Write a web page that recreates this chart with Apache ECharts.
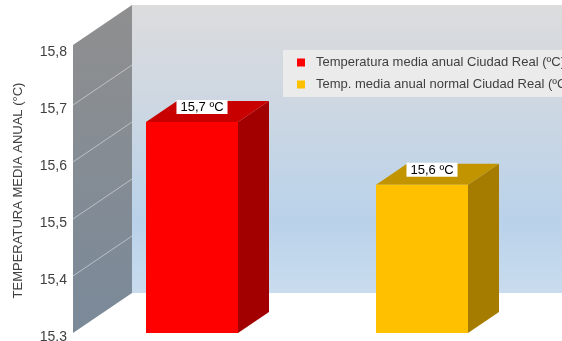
<!DOCTYPE html>
<html lang="es">
<head>
    <meta charset="UTF-8">
    <title>Temperatura media anual Ciudad Real</title>
    <script src="https://cdn.jsdelivr.net/npm/echarts@6.0.0/dist/echarts.min.js"></script>
    <style>
        html, body { margin: 0; padding: 0; background: #fff; }
    </style>
</head>
<body>
    <div id="chart" style="width: 562px; height: 341px;"></div>
    <script>
        var myChart = echarts.init(document.getElementById('chart'));

        // datos
        const categories = ['Real', 'Normal'];
        const seriesNames = [
            'Temperatura media anual Ciudad Real (ºC)',
            'Temp. media anual normal Ciudad Real (ºC)'
        ];
        const values = [15.67, 15.56];
        const yTicks = [15.3, 15.4, 15.5, 15.6, 15.7, 15.8];

        // colores de las caras: frontal, superior, lateral
        const faceColors = [
            ['#ff0000', '#c80000', '#a20000'],
            ['#ffc000', '#c29400', '#a67c00']
        ];

        // profundidad del efecto 3D
        const wallDepth = [59, -40];
        const barDepth = [31, -21];
        const yMin = yTicks[0], yMax = yTicks[yTicks.length - 1];

        function renderWalls(params, api) {
            const cs = params.coordSys;
            const fx = cs.x - 4;
            const yTop = api.coord([0, yMax])[1] - 3;
            const yBot = api.coord([0, yMin])[1];
            const bx = fx + wallDepth[0], dy = wallDepth[1];
            const children = [];
            // pared del fondo
            children.push({
                type: 'rect',
                shape: { x: bx, y: yTop + dy, width: cs.x + cs.width + 200 - bx, height: yBot - yTop },
                style: {
                    fill: new echarts.graphic.LinearGradient(0, 0, 0, 1, [
                        { offset: 0, color: '#dcdcdd' },
                        { offset: 0.35, color: '#cdd7e2' },
                        { offset: 0.75, color: '#b9d2ea' },
                        { offset: 1, color: '#c9dcee' }
                    ])
                }
            });
            // pared lateral
            children.push({
                type: 'polygon',
                shape: { points: [[fx, yTop], [bx, yTop + dy], [bx, yBot + dy], [fx, yBot]] },
                style: {
                    fill: new echarts.graphic.LinearGradient(0, 0, 0, 1, [
                        { offset: 0, color: '#8f8f8f' },
                        { offset: 1, color: '#7a8999' }
                    ])
                }
            });
            // líneas de división en la pared lateral
            yTicks.slice(1, -1).forEach(function (t) {
                const y = api.coord([0, t])[1];
                children.push({
                    type: 'line',
                    shape: { x1: fx, y1: y, x2: bx, y2: y + dy },
                    style: { stroke: 'rgba(255,255,255,0.45)', lineWidth: 1 }
                });
            });
            return { type: 'group', children: children };
        }

        function renderBar(params, api) {
            const idx = params.seriesIndex - 1;
            const c = faceColors[idx];
            const top = api.coord([api.value(0), api.value(1)]);
            const base = api.coord([api.value(0), yMin]);
            const w = api.size([1, 0])[0] * 0.4;
            const x0 = top[0] - w / 2, x1 = top[0] + w / 2;
            const yT = top[1], yB = base[1];
            const dx = barDepth[0], dy = barDepth[1];
            const label = api.value(1).toFixed(1).replace('.', ',') + ' ºC';
            return {
                type: 'group',
                children: [
                    {
                        type: 'polygon',
                        shape: { points: [[x1, yT], [x1 + dx, yT + dy], [x1 + dx, yB + dy], [x1, yB]] },
                        style: { fill: c[2] }
                    },
                    {
                        type: 'polygon',
                        shape: { points: [[x0, yT], [x0 + dx, yT + dy], [x1 + dx, yT + dy], [x1, yT]] },
                        style: { fill: c[1] }
                    },
                    {
                        type: 'rect',
                        shape: { x: x0, y: yT, width: w, height: yB - yT },
                        style: { fill: c[0] }
                    },
                    {
                        type: 'text',
                        x: x0 + dx + 25,
                        y: yT + dy - 1,
                        style: {
                            text: label,
                            fill: '#000',
                            font: '13px "Liberation Sans", Arial, sans-serif',
                            align: 'center',
                            verticalAlign: 'top',
                            backgroundColor: '#ffffff',
                            padding: [1, 4, 0, 4]
                        }
                    }
                ]
            };
        }

        const option = {
            animation: false,
            backgroundColor: '#ffffff',
            grid: { left: 77, width: 460, top: 48, bottom: 8, outerBoundsMode: 'none' },
            legend: {
                orient: 'vertical',
                left: 283,
                top: 50,
                data: seriesNames,
                icon: 'rect',
                itemWidth: 8,
                itemHeight: 8,
                itemGap: 9,
                padding: [6, 10, 6, 14],
                backgroundColor: '#ebebeb',
                textStyle: {
                    fontFamily: '"Liberation Sans", Arial, sans-serif',
                    fontSize: 13,
                    color: '#404040',
                    padding: [0, 0, 0, 6]
                }
            },
            xAxis: {
                type: 'category',
                data: categories,
                axisLine: { show: false },
                axisTick: { show: false },
                axisLabel: { show: false },
                splitLine: { show: false }
            },
            yAxis: {
                type: 'value',
                min: yMin,
                max: yMax,
                interval: 0.1,
                name: 'TEMPERATURA MEDIA ANUAL (°C)',
                nameLocation: 'middle',
                nameGap: 52,
                nameTextStyle: {
                    fontFamily: '"Liberation Sans", Arial, sans-serif',
                    fontSize: 13,
                    color: '#404040'
                },
                axisLine: { show: false },
                axisTick: { show: false },
                splitLine: { show: false },
                axisLabel: {
                    margin: 10,
                    fontFamily: '"Liberation Sans", Arial, sans-serif',
                    fontSize: 14,
                    color: '#404040',
                    verticalAlign: 'top',
                    lineHeight: 9,
                    formatter: function (v) { return v.toFixed(1).replace('.', ','); }
                }
            },
            series: [
                {
                    type: 'custom',
                    name: 'paredes',
                    silent: true,
                    renderItem: renderWalls,
                    data: [[0, yMin]],
                    z: 1
                },
                {
                    type: 'custom',
                    name: seriesNames[0],
                    renderItem: renderBar,
                    itemStyle: { color: faceColors[0][0] },
                    data: [[0, values[0]]],
                    z: 2
                },
                {
                    type: 'custom',
                    name: seriesNames[1],
                    renderItem: renderBar,
                    itemStyle: { color: faceColors[1][0] },
                    data: [[1, values[1]]],
                    z: 2
                }
            ]
        };

        myChart.setOption(option);
    </script>
</body>
</html>
